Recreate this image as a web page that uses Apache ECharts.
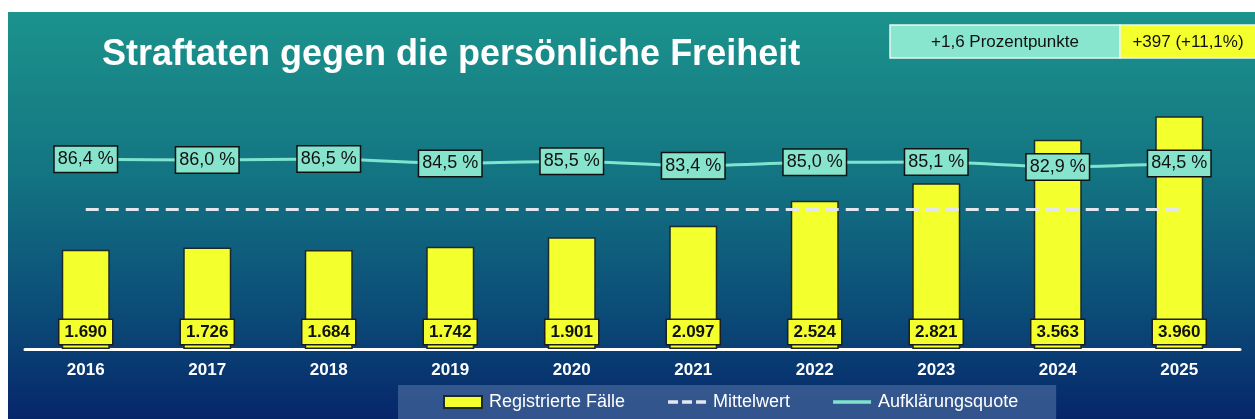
<!DOCTYPE html>
<html>
<head>
<meta charset="utf-8">
<script src="https://cdn.jsdelivr.net/npm/echarts@6/dist/echarts.min.js"></script>
<style>
  html, body { margin: 0; padding: 0; background: #fff; }
  #chart { width: 1255px; height: 419px; }
</style>
</head>
<body>
<div id="chart"></div>
<script>
// Jahre
const years = ['2016', '2017', '2018', '2019', '2020', '2021', '2022', '2023', '2024', '2025'];
// Registrierte Fälle
const cases = [1690, 1726, 1684, 1742, 1901, 2097, 2524, 2821, 3563, 3960];
// Aufklärungsquote in %
const clearance = [86.4, 86.0, 86.5, 84.5, 85.5, 83.4, 85.0, 85.1, 82.9, 84.5];
// Mittelwert der Fälle (gestrichelte Linie)
const meanValue = 2371;
// Kennzahlen oben rechts
const infoTexts = ['+1,6 Prozentpunkte', '+397 (+11,1%)'];

const font = '"Liberation Sans", Arial, sans-serif';
const fmtInt = v => v.toLocaleString('de-DE');
const fmtPct = v => v.toFixed(1).replace('.', ',') + ' %';

const chart = echarts.init(document.getElementById('chart'));

chart.setOption({
    backgroundColor: '#ffffff',
    animation: false,
    textStyle: {fontFamily: font},
    //Hintergrund, Kennzahlen-Boxen
    graphic: [
        {
            type: 'rect', z: -10, silent: true,
            shape: {x: 8, y: 12, width: 1247, height: 407},
            style: {
                fill: new echarts.graphic.LinearGradient(0, 0, 0, 1, [
                    {offset: 0, color: '#1c938c'},
                    {offset: 0.4, color: '#137482'},
                    {offset: 0.75, color: '#0b4a77'},
                    {offset: 1, color: '#06266a'}
                ])
            }
        },
        {
            type: 'rect', z: 5,
            shape: {x: 890, y: 25, width: 230, height: 33},
            style: {fill: '#88e6cf', stroke: '#e6f7f2', lineWidth: 1.5}
        },
        {
            type: 'text', z: 6,
            x: 1005, y: 42,
            style: {text: infoTexts[0], fill: '#111', font: '17px ' + font, align: 'center', verticalAlign: 'middle'}
        },
        {
            type: 'rect', z: 5,
            shape: {x: 1120, y: 25, width: 140, height: 33},
            style: {fill: '#f4ff2e', stroke: '#e6f7f2', lineWidth: 1.5}
        },
        {
            type: 'text', z: 6,
            x: 1188, y: 42,
            style: {text: infoTexts[1], fill: '#111', font: '17px ' + font, align: 'center', verticalAlign: 'middle'}
        }
    ],
    title: {
        text: 'Straftaten gegen die persönliche Freiheit',
        left: 97,
        top: 32,
        textStyle: {color: '#ffffff', fontSize: 36, fontWeight: 'bold', fontFamily: font}
    },
    legend: {
        bottom: -6,
        left: 398,
        padding: [8, 38, 14, 45],
        itemGap: 43,
        itemWidth: 38,
        itemHeight: 12,
        symbolKeepAspect: true,
        backgroundColor: 'rgba(88,120,170,0.55)',
        textStyle: {color: '#ffffff', fontSize: 18, fontFamily: font, padding: [0, 0, 0, 2]},
        data: [
            {name: 'Registrierte Fälle', icon: 'rect'},
            {name: 'Mittelwert', icon: 'path://M0,0h10v3.5h-10z M14,0h10v3.5h-10z M28,0h10v3.5h-10z'},
            {name: 'Aufklärungsquote', icon: 'path://M0,0h38v3.5h-38z'}
        ]
    },
    grid: {left: 25, right: 15, top: 114, bottom: 70},
    xAxis: {
        type: 'category',
        data: years,
        axisLine: {show: true, lineStyle: {color: '#ffffff', width: 3}},
        axisTick: {show: false},
        axisLabel: {color: '#ffffff', fontSize: 17, fontWeight: 'bold', margin: 13, fontFamily: font}
    },
    yAxis: [
        {type: 'value', min: 0, max: 4000, show: false, splitLine: {show: false}},
        {type: 'value', min: 0, max: 107, show: false, splitLine: {show: false}}
    ],
    series: [
        {
            name: 'Registrierte Fälle',
            type: 'bar',
            data: cases,
            barWidth: 48,
            itemStyle: {color: '#f4ff2e', borderColor: '#1d2a2a', borderWidth: 1.5},
            label: {
                show: true,
                position: 'insideBottom',
                distance: 5,
                formatter: p => fmtInt(p.value),
                color: '#111',
                fontSize: 17,
                fontWeight: 'bold',
                fontFamily: font,
                backgroundColor: '#f4ff2e',
                borderColor: '#1d1d1d',
                borderWidth: 1.5,
                padding: [4, 5, 3, 5]
            },
            z: 2
        },
        {
            name: 'Mittelwert',
            type: 'line',
            data: [],
            symbol: 'none',
            lineStyle: {color: '#e4e8ee', width: 3, type: [13, 7]},
            itemStyle: {color: '#e4e8ee'},
            markLine: {
                silent: true,
                symbol: 'none',
                label: {show: false},
                lineStyle: {color: '#e4e8ee', width: 3, type: [13, 7]},
                data: [[{coord: [0, meanValue]}, {coord: [years.length - 1, meanValue]}]]
            },
            z: 3
        },
        {
            name: 'Aufklärungsquote',
            type: 'line',
            yAxisIndex: 1,
            data: clearance,
            symbol: 'circle',
            symbolSize: 2,
            showSymbol: true,
            smooth: 0.2,
            lineStyle: {color: '#7fe3cd', width: 3},
            itemStyle: {color: '#7fe3cd'},
            label: {
                show: true,
                position: 'inside',
                formatter: p => fmtPct(p.value),
                color: '#111',
                fontSize: 18,
                fontFamily: font,
                backgroundColor: '#86e3cc',
                borderColor: '#111',
                borderWidth: 1.5,
                padding: [4, 3, 3, 3]
            },
            z: 4
        }
    ]
});
</script>
</body>
</html>
